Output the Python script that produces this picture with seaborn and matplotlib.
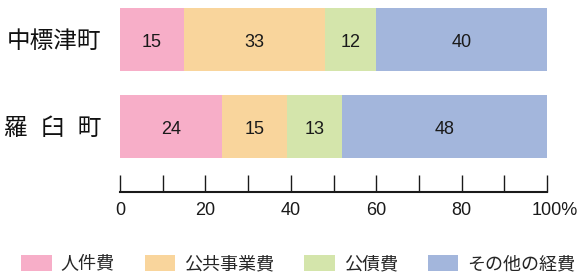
import matplotlib
matplotlib.use('Agg')
import numpy as np
import seaborn as sns
import matplotlib.pyplot as plt
from matplotlib.patches import Patch
from matplotlib.transforms import ScaledTranslation

# dados
towns = ['中標津町', '羅  臼  町']
categories = ['人件費', '公共事業費', '公債費', 'その他の経費']
nakashibetsu = [15, 33, 12, 40]
rausu = [24, 15, 13, 48]
colors = ['#F7AEC8', '#F9D59C', '#D4E5AB', '#A3B6DC']

values = np.array([nakashibetsu, rausu])
cum = values.cumsum(axis=1)

sns.set_style('white')
plt.rcParams['font.family'] = ['Liberation Sans', 'Noto Sans CJK JP']

fig = plt.figure(figsize=(5.79, 2.76), dpi=100)
ax = fig.add_axes([120 / 579, 1 - 192 / 276, 427 / 579, 184 / 276])

# barras empilhadas: desenha do total para a primeira categoria
for i in range(len(categories) - 1, -1, -1):
    sns.barplot(x=cum[:, i], y=towns, orient='h', color=colors[i],
                saturation=1, width=0.724, edgecolor='none', ax=ax)

# rótulos de valor
for r in range(len(towns)):
    for i in range(len(categories)):
        left = cum[r, i] - values[r, i]
        ax.text(left + values[r, i] / 2, r + 0.04, str(values[r, i]),
                ha='center', va='center', fontsize=13, color='#1a1a1a')

ax.set_xlim(0, 100)
ax.set_ylim(1.753, -0.362)
ax.set_xlabel('')
ax.set_ylabel('')

for s in ['left', 'top', 'right']:
    ax.spines[s].set_visible(False)
ax.spines['bottom'].set_linewidth(1.5)
ax.spines['bottom'].set_color('#1a1a1a')

ax.set_xticks([0, 20, 40, 60, 80, 100])
ax.set_xticklabels(['0', '20', '40', '60', '80', '100%'])
ax.set_xticks([10, 30, 50, 70, 90], minor=True)
ax.tick_params(axis='x', which='both', direction='in', length=12.2,
               width=1, color='#1a1a1a', pad=7, labelsize=13,
               labelcolor='#1a1a1a', bottom=True)
ax.tick_params(axis='y', length=0, pad=13.5, labelsize=17, labelcolor='#111111')

# "100" centrado no tick, "%" à direita
lbl = ax.get_xticklabels()[-1]
lbl.set_transform(lbl.get_transform() + ScaledTranslation(0.08, 0, fig.dpi_scale_trans))

# legenda
handles = [Patch(facecolor=c, edgecolor='none') for c in colors]
fig.legend(handles, categories, loc='center left', bbox_to_anchor=(21 / 579, 12 / 276),
           ncol=4, frameon=False, fontsize=13, borderpad=0, borderaxespad=0,
           handlelength=1.7, handleheight=0.97, handletextpad=0.5,
           columnspacing=1.65)

plt.savefig('out.png', dpi=100)
